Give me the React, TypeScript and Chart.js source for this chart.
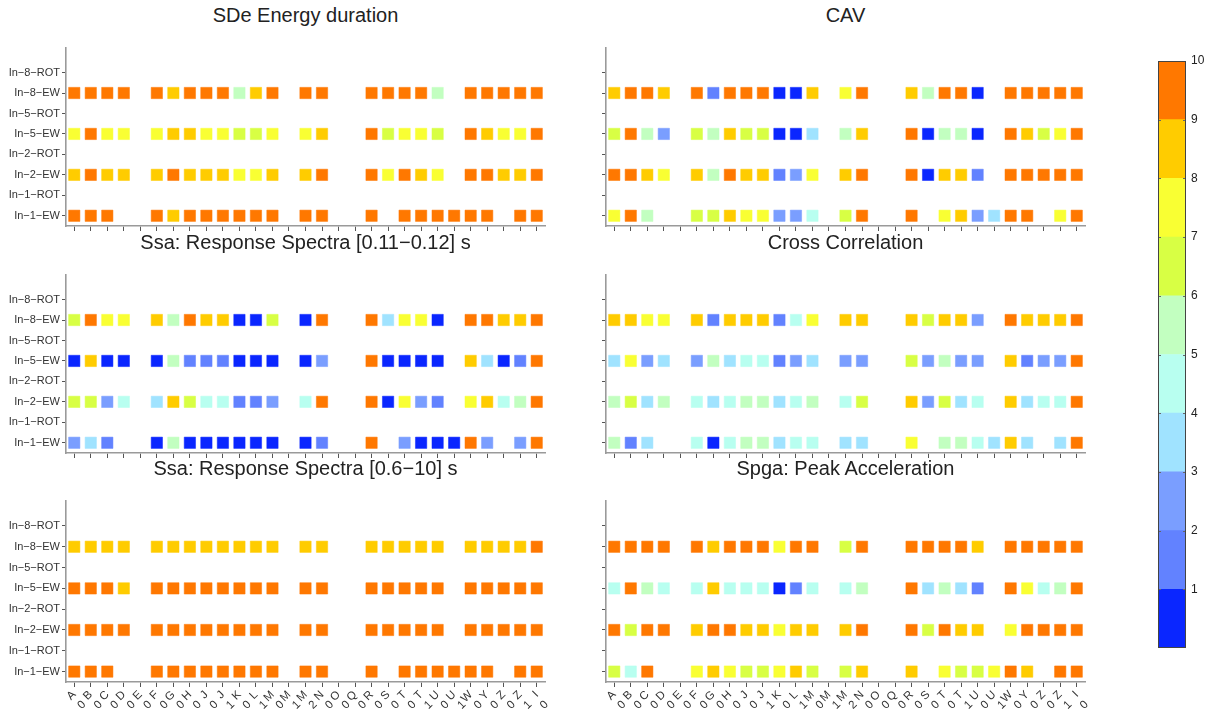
import React, { useEffect, useRef } from "react";
import { Chart, registerables } from "chart.js";

Chart.register(...registerables);

const FONT = "'Liberation Sans', Arial, Helvetica, sans-serif";

// x categories: station name (first line) and suffix digit (second line)
const stationNames = ["A", "B", "C", "D", "E", "F", "G", "H", "J", "J", "K", "L", "M", "M", "M", "N", "O", "Q", "R", "S", "T", "T", "U", "U", "W", "Y", "Z", "Z", "I"];
const stationSuffixes = ["0", "0", "0", "0", "0", "0", "0", "0", "0", "1", "0", "1", "0", "1", "2", "0", "0", "0", "0", "0", "0", "1", "0", "1", "0", "0", "0", "1", "0"];

// y categories, bottom to top
const rowLabels = ["In−1−EW", "In−1−ROT", "In−2−EW", "In−2−ROT", "In−5−EW", "In−5−ROT", "In−8−EW", "In−8−ROT"];

// colour scale bins 0-1 ... 9-10
const binColors = ["#0a26ff", "#6282ff", "#7a9eff", "#a0e3ff", "#b8fff0", "#c2ffc0", "#d8ff44", "#f9ff33", "#ffcc00", "#ff7800"];
const colorbarTicks = [1, 2, 3, 4, 5, 6, 7, 8, 9, 10];

const _ = null;

// SDe Energy duration
const sdeIn1EW = [9.5, 9.5, 9.5, _, _, 9.5, 8.5, 9.5, 9.5, 9.5, 9.5, 9.5, 9.5, _, 9.5, 9.5, _, _, 9.5, _, 9.5, 9.5, 9.5, 9.5, 9.5, 9.5, _, 9.5, 9.5];
const sdeIn2EW = [8.5, 9.5, 8.5, 8.5, _, 8.5, 9.5, 8.5, 8.5, 8.5, 7.5, 7.5, 8.5, _, 8.5, 9.5, _, _, 9.5, 7.5, 9.5, 8.5, 7.5, _, 9.5, 9.5, 8.5, 8.5, 9.5];
const sdeIn5EW = [7.5, 9.5, 7.5, 7.5, _, 7.5, 8.5, 8.5, 7.5, 7.5, 6.5, 6.5, 7.5, _, 7.5, 8.5, _, _, 9.5, 6.5, 7.5, 7.5, 6.5, _, 9.5, 8.5, 7.5, 7.5, 9.5];
const sdeIn8EW = [9.5, 9.5, 9.5, 9.5, _, 9.5, 8.5, 9.5, 9.5, 9.5, 5.5, 8.5, 9.5, _, 9.5, 9.5, _, _, 9.5, 9.5, 9.5, 9.5, 5.5, _, 9.5, 9.5, 9.5, 9.5, 9.5];

// CAV
const cavIn1EW = [7.5, 9.5, 5.5, _, _, 6.5, 6.5, 8.5, 7.5, 7.5, 2.5, 2.5, 4.5, _, 6.5, 9.5, _, _, 9.5, _, 7.5, 8.5, 2.5, 3.5, 9.5, 9.5, _, 7.5, 9.5];
const cavIn2EW = [9.5, 9.5, 8.5, 7.5, _, 8.5, 5.5, 9.5, 8.5, 8.5, 1.5, 2.5, 7.5, _, 8.5, 9.5, _, _, 9.5, 0.5, 8.5, 8.5, 1.5, _, 9.5, 9.5, 9.5, 9.5, 9.5];
const cavIn5EW = [6.5, 9.5, 5.5, 2.5, _, 6.5, 5.5, 8.5, 6.5, 6.5, 0.5, 0.5, 3.5, _, 5.5, 8.5, _, _, 9.5, 0.5, 5.5, 5.5, 0.5, _, 9.5, 8.5, 6.5, 7.5, 9.5];
const cavIn8EW = [8.5, 9.5, 9.5, 8.5, _, 9.5, 1.5, 9.5, 9.5, 9.5, 0.5, 0.5, 8.5, _, 7.5, 9.5, _, _, 8.5, 5.5, 9.5, 9.5, 0.5, _, 9.5, 9.5, 9.5, 9.5, 9.5];

// Ssa: Response Spectra [0.11-0.12] s
const ssaShortIn1EW = [2.5, 3.5, 1.5, _, _, 0.5, 5.5, 0.5, 0.5, 0.5, 0.5, 0.5, 0.5, _, 0.5, 1.5, _, _, 9.5, _, 2.5, 0.5, 0.5, 0.5, 9.5, 2.5, _, 2.5, 9.5];
const ssaShortIn2EW = [6.5, 6.5, 2.5, 4.5, _, 3.5, 8.5, 6.5, 4.5, 4.5, 1.5, 1.5, 2.5, _, 4.5, 9.5, _, _, 9.5, 0.5, 7.5, 2.5, 1.5, _, 7.5, 8.5, 4.5, 5.5, 9.5];
const ssaShortIn5EW = [0.5, 8.5, 0.5, 0.5, _, 0.5, 5.5, 1.5, 1.5, 1.5, 0.5, 0.5, 0.5, _, 0.5, 2.5, _, _, 9.5, 0.5, 0.5, 0.5, 0.5, _, 8.5, 3.5, 0.5, 1.5, 9.5];
const ssaShortIn8EW = [6.5, 9.5, 7.5, 7.5, _, 8.5, 5.5, 9.5, 8.5, 8.5, 0.5, 0.5, 6.5, _, 0.5, 9.5, _, _, 9.5, 3.5, 7.5, 7.5, 0.5, _, 9.5, 9.5, 8.5, 8.5, 9.5];

// Cross Correlation
const ccIn1EW = [5.5, 1.5, 3.5, _, _, 4.5, 0.5, 4.5, 5.5, 5.5, 3.5, 4.5, 4.5, _, 3.5, 3.5, _, _, 7.5, _, 5.5, 5.5, 4.5, 3.5, 8.5, 3.5, _, 3.5, 9.5];
const ccIn2EW = [5.5, 6.5, 3.5, 5.5, _, 4.5, 3.5, 4.5, 5.5, 5.5, 3.5, 4.5, 5.5, _, 4.5, 6.5, _, _, 8.5, 2.5, 6.5, 3.5, 4.5, _, 8.5, 3.5, 4.5, 4.5, 9.5];
const ccIn5EW = [3.5, 7.5, 2.5, 3.5, _, 2.5, 5.5, 3.5, 4.5, 4.5, 1.5, 2.5, 3.5, _, 2.5, 2.5, _, _, 6.5, 2.5, 5.5, 2.5, 2.5, _, 8.5, 1.5, 2.5, 2.5, 9.5];
const ccIn8EW = [8.5, 8.5, 7.5, 7.5, _, 8.5, 1.5, 8.5, 8.5, 8.5, 1.5, 4.5, 7.5, _, 8.5, 8.5, _, _, 8.5, 6.5, 8.5, 8.5, 2.5, _, 9.5, 8.5, 8.5, 8.5, 9.5];

// Ssa: Response Spectra [0.6-10] s
const ssaLongIn1EW = [9.5, 9.5, 9.5, _, _, 9.5, 9.5, 9.5, 9.5, 9.5, 9.5, 9.5, 9.5, _, 9.5, 9.5, _, _, 9.5, _, 9.5, 9.5, 9.5, 9.5, 9.5, 9.5, _, 9.5, 9.5];
const ssaLongIn2EW = [9.5, 9.5, 9.5, 9.5, _, 9.5, 9.5, 9.5, 9.5, 9.5, 9.5, 9.5, 9.5, _, 9.5, 9.5, _, _, 9.5, 9.5, 9.5, 9.5, 9.5, _, 9.5, 9.5, 9.5, 9.5, 9.5];
const ssaLongIn5EW = [9.5, 9.5, 9.5, 8.5, _, 9.5, 9.5, 9.5, 9.5, 9.5, 9.5, 9.5, 9.5, _, 9.5, 9.5, _, _, 9.5, 9.5, 9.5, 9.5, 9.5, _, 9.5, 9.5, 9.5, 9.5, 9.5];
const ssaLongIn8EW = [8.5, 8.5, 8.5, 8.5, _, 8.5, 8.5, 8.5, 8.5, 8.5, 8.5, 8.5, 8.5, _, 8.5, 8.5, _, _, 8.5, 8.5, 8.5, 8.5, 8.5, _, 8.5, 8.5, 8.5, 8.5, 9.5];

// Spga: Peak Acceleration
const spgaIn1EW = [6.5, 4.5, 9.5, _, _, 7.5, 8.5, 7.5, 6.5, 6.5, 7.5, 8.5, 6.5, _, 6.5, 8.5, _, _, 8.5, _, 7.5, 6.5, 6.5, 7.5, 9.5, 8.5, _, 9.5, 9.5];
const spgaIn2EW = [9.5, 6.5, 9.5, 9.5, _, 8.5, 9.5, 9.5, 8.5, 8.5, 7.5, 8.5, 8.5, _, 8.5, 9.5, _, _, 9.5, 6.5, 9.5, 8.5, 8.5, _, 7.5, 9.5, 9.5, 9.5, 9.5];
const spgaIn5EW = [4.5, 9.5, 5.5, 4.5, _, 4.5, 8.5, 4.5, 4.5, 4.5, 0.5, 1.5, 4.5, _, 4.5, 5.5, _, _, 9.5, 3.5, 5.5, 3.5, 1.5, _, 9.5, 7.5, 4.5, 5.5, 9.5];
const spgaIn8EW = [9.5, 9.5, 9.5, 9.5, _, 9.5, 8.5, 9.5, 9.5, 9.5, 7.5, 9.5, 9.5, _, 6.5, 9.5, _, _, 9.5, 9.5, 9.5, 9.5, 8.5, _, 9.5, 9.5, 9.5, 9.5, 9.5];

type Row = { values: (number | null)[]; y: number };

function colorFor(v: number) {
  return binColors[Math.max(0, Math.min(binColors.length - 1, Math.floor(v)))];
}

function withAlpha(hex: string, a: number) {
  const r = parseInt(hex.slice(1, 3), 16);
  const g = parseInt(hex.slice(3, 5), 16);
  const b = parseInt(hex.slice(5, 7), 16);
  return `rgba(${r},${g},${b},${a})`;
}

type PanelProps = {
  title: string;
  rows: Row[];
  left: number;
  top: number;
  width: number;
  plotHeight: number;
  yWidth: number;
  xHeight: number;
  showYLabels: boolean;
  showXLabels: boolean;
};

function Panel(p: PanelProps) {
  const ref = useRef<HTMLCanvasElement>(null);
  const height = p.plotHeight + p.xHeight;
  useEffect(() => {
    if (!ref.current) return;
    const datasets = p.rows.map((row) => ({
      data: row.values.flatMap((v, i) => (v === null ? [] : [{ x: i, y: row.y, v }])),
      pointStyle: "rect" as const,
      pointRadius: 8,
      pointBorderWidth: 1,
      pointBackgroundColor: (ctx: any) => colorFor(ctx.raw.v),
      pointBorderColor: (ctx: any) => withAlpha(colorFor(ctx.raw.v), 0.5),
    }));
    const chart = new Chart(ref.current, {
      type: "scatter",
      data: { datasets },
      options: {
        animation: false,
        responsive: false,
        events: [],
        layout: { padding: { left: 0, right: 15, top: 0, bottom: 0 } },
        plugins: { legend: { display: false }, tooltip: { enabled: false }, title: { display: false } },
        scales: {
          x: {
            type: "linear",
            min: -0.5,
            max: 28.5,
            afterBuildTicks: (s: any) => {
              s.ticks = stationNames.map((_n, i) => ({ value: i }));
            },
            afterFit: (s: any) => {
              s.height = p.xHeight;
              s.paddingLeft = 0;
              s.paddingRight = 0;
            },
            grid: { drawOnChartArea: false, drawTicks: true, tickLength: 5, color: "#555", lineWidth: 1 },
            border: { display: true, color: "#9a9a9a", width: 1.6 },
            ticks: {
              display: p.showXLabels,
              autoSkip: false,
              minRotation: 45,
              maxRotation: 45,
              padding: 1,
              color: "#333",
              font: { family: FONT, size: 11.5 },
              callback: (_v: any, i: number) => [stationNames[i], stationSuffixes[i]],
            },
          },
          y: {
            type: "linear",
            min: 0.5,
            max: 9.2,
            afterBuildTicks: (s: any) => {
              s.ticks = rowLabels.map((_n, i) => ({ value: i + 1 }));
            },
            afterFit: (s: any) => {
              s.width = p.yWidth;
              s.paddingTop = 0;
              s.paddingBottom = 0;
            },
            grid: { drawOnChartArea: false, drawTicks: true, tickLength: 4, color: "#555", lineWidth: 1 },
            border: { display: true, color: "#9a9a9a", width: 1.6 },
            ticks: {
              display: p.showYLabels,
              padding: 2,
              color: "#333",
              font: { family: FONT, size: 11 },
              callback: (_v: any, i: number) => rowLabels[i],
            },
          },
        },
      } as any,
    });
    return () => chart.destroy();
  }, []);
  const plotLeft = p.left + p.yWidth;
  const plotWidth = p.width - p.yWidth - 15;
  return (
    <>
      <div
        style={{
          position: "absolute",
          left: plotLeft,
          top: p.top - 36,
          width: plotWidth,
          height: 24,
          lineHeight: "24px",
          textAlign: "center",
          fontFamily: FONT,
          fontSize: 20,
          color: "#222",
          whiteSpace: "nowrap",
        }}
      >
        {p.title}
      </div>
      <canvas
        ref={ref}
        width={p.width}
        height={height}
        style={{ position: "absolute", left: p.left, top: p.top, width: p.width, height }}
      />
    </>
  );
}

const colorbarFrame = {
  id: "colorbarFrame",
  afterDatasetsDraw(chart: any) {
    const { ctx, chartArea: a, scales } = chart;
    const y = scales.y;
    ctx.save();
    ctx.strokeStyle = "#666";
    ctx.lineWidth = 1;
    colorbarTicks.forEach((v) => {
      const py = Math.round(y.getPixelForValue(v)) + 0.5;
      ctx.beginPath();
      ctx.moveTo(a.left, py);
      ctx.lineTo(a.left + 3, py);
      ctx.moveTo(a.right - 3, py);
      ctx.lineTo(a.right, py);
      ctx.stroke();
    });
    ctx.strokeStyle = "#444";
    ctx.strokeRect(Math.round(a.left) + 0.5, Math.round(a.top) + 0.5, Math.round(a.width) - 1, Math.round(a.height) - 1);
    ctx.restore();
  },
};

function Colorbar() {
  const ref = useRef<HTMLCanvasElement>(null);
  useEffect(() => {
    if (!ref.current) return;
    const chart = new Chart(ref.current, {
      type: "bar",
      data: {
        labels: [""],
        datasets: binColors.map((c, i) => ({
          data: [[i, i + 1]],
          backgroundColor: c,
          borderWidth: 0,
          grouped: false,
          barPercentage: 1,
          categoryPercentage: 1,
        })),
      },
      options: {
        animation: false,
        responsive: false,
        events: [],
        layout: { padding: { left: 18, right: 0, top: 11, bottom: 12 } },
        plugins: { legend: { display: false }, tooltip: { enabled: false } },
        scales: {
          x: { display: false },
          y: {
            position: "right",
            min: 0,
            max: 10,
            afterBuildTicks: (s: any) => {
              s.ticks = colorbarTicks.map((v) => ({ value: v }));
            },
            afterFit: (s: any) => {
              s.width = 23;
              s.paddingTop = 0;
              s.paddingBottom = 0;
            },
            grid: { drawOnChartArea: false, drawTicks: false },
            border: { display: false },
            ticks: {
              padding: 5,
              color: "#222",
              font: { family: FONT, size: 12 },
              callback: (_v: any, i: number) => String(colorbarTicks[i]),
            },
          },
        },
      } as any,
      plugins: [colorbarFrame],
    });
    return () => chart.destroy();
  }, []);
  return (
    <canvas
      ref={ref}
      width={69}
      height={610}
      style={{ position: "absolute", left: 1140, top: 50, width: 69, height: 610 }}
    />
  );
}

const rowsOf = (a: (number | null)[], b: (number | null)[], c: (number | null)[], d: (number | null)[]): Row[] => [
  { values: a, y: 1 },
  { values: b, y: 3 },
  { values: c, y: 5 },
  { values: d, y: 7 },
];

export default function App() {
  const tops = [39.3, 265.7, 492.4];
  const plotHeight = 190;
  const L = { left: 0, width: 560, yWidth: 66, showYLabels: true };
  const R = { left: 596, width: 504, yWidth: 10, showYLabels: false };
  return (
    <div style={{ position: "absolute", left: 0, top: 0, width: 1209, height: 710, background: "#fff", overflow: "hidden" }}>
      <Panel {...L} title="SDe Energy duration" rows={rowsOf(sdeIn1EW, sdeIn2EW, sdeIn5EW, sdeIn8EW)} top={tops[0]} plotHeight={plotHeight} xHeight={6} showXLabels={false} />
      <Panel {...R} title="CAV" rows={rowsOf(cavIn1EW, cavIn2EW, cavIn5EW, cavIn8EW)} top={tops[0]} plotHeight={plotHeight} xHeight={6} showXLabels={false} />
      <Panel {...L} title="Ssa: Response Spectra [0.11−0.12] s" rows={rowsOf(ssaShortIn1EW, ssaShortIn2EW, ssaShortIn5EW, ssaShortIn8EW)} top={tops[1]} plotHeight={plotHeight} xHeight={6} showXLabels={false} />
      <Panel {...R} title="Cross Correlation" rows={rowsOf(ccIn1EW, ccIn2EW, ccIn5EW, ccIn8EW)} top={tops[1]} plotHeight={plotHeight} xHeight={6} showXLabels={false} />
      <Panel {...L} title="Ssa: Response Spectra [0.6−10] s" rows={rowsOf(ssaLongIn1EW, ssaLongIn2EW, ssaLongIn5EW, ssaLongIn8EW)} top={tops[2]} plotHeight={plotHeight} xHeight={28} showXLabels={true} />
      <Panel {...R} title="Spga: Peak Acceleration" rows={rowsOf(spgaIn1EW, spgaIn2EW, spgaIn5EW, spgaIn8EW)} top={tops[2]} plotHeight={plotHeight} xHeight={28} showXLabels={true} />
      <Colorbar />
    </div>
  );
}
